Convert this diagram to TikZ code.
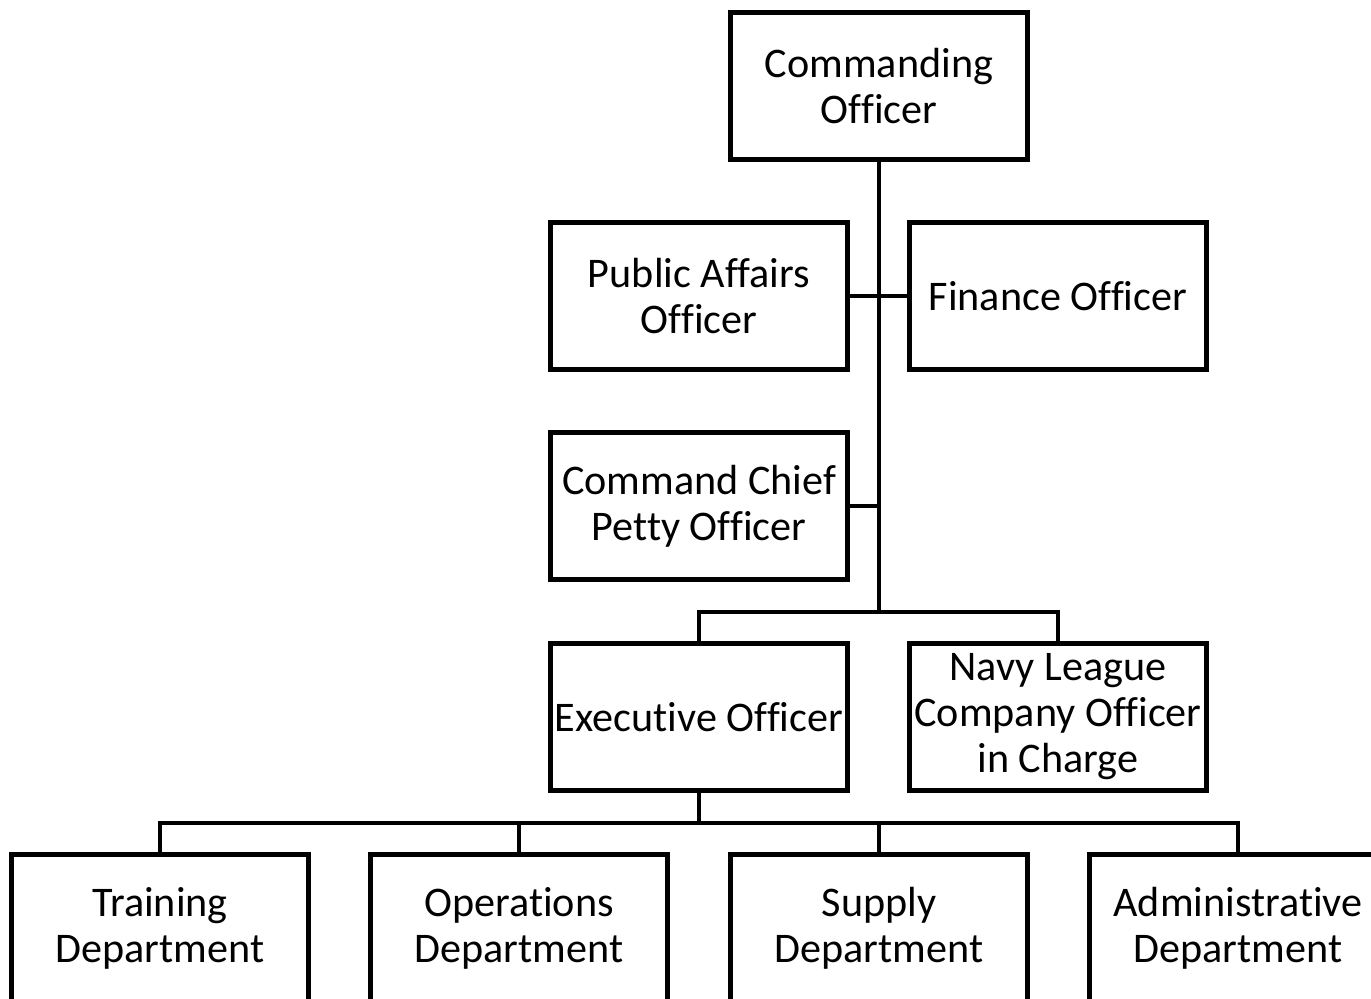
\documentclass[tikz,border=0pt]{standalone}
\usepackage{fontspec}
\setmainfont{Carlito}[Ligatures=NoCommon]
\begin{document}
\begin{tikzpicture}[x=0.02cm,y=-0.02cm,line join=miter,
	office/.style={draw,line width=2.8pt,minimum width=5.94cm,minimum height=2.94cm,inner sep=0pt,align=center,font=\fontsize{24}{26.2}\selectfont},
	link/.style={line width=2.6pt}]
	\useasboundingbox (0,0) rectangle (1371,999);
	% top of the chain
	\node[office] (co) at (879,86) {Commanding\\Officer};
	\node[office] (pao) at (699,296) {Public Affairs\\Officer};
	\node[office] (fin) at (1058,296) {Finance Officer};
	\node[office] (ccpo) at (699,506) {Command Chief\\Petty Officer};
	\node[office] (xo) at (699,717) {Executive Officer};
	\node[office] (nl) at (1058,717) {Navy League\\Company Officer\\in Charge};
	% departments
	\node[office] (trn) at (160,928) {Training\\Department};
	\node[office] (ops) at (519,928) {Operations\\Department};
	\node[office] (sup) at (879,928) {Supply\\Department};
	\node[office] (adm) at (1238,928) {Administrative\\Department};
	\coordinate (split) at (879,612);
	\coordinate (deps) at (699,823);
	\draw[link] (co.south) -- (split);
	\draw[link] (pao.east) -- (fin.west);
	\draw[link] (ccpo.east) -- (ccpo.east -| split);
	\draw[link] (xo.north) |- (split) -| (nl.north);
	\draw[link] (xo.south) -- (deps);
	\draw[link] (trn.north) |- (deps) -| (adm.north);
	\draw[link] (ops.north) -- (ops.north |- deps);
	\draw[link] (sup.north) -- (sup.north |- deps);
\end{tikzpicture}
\end{document}
